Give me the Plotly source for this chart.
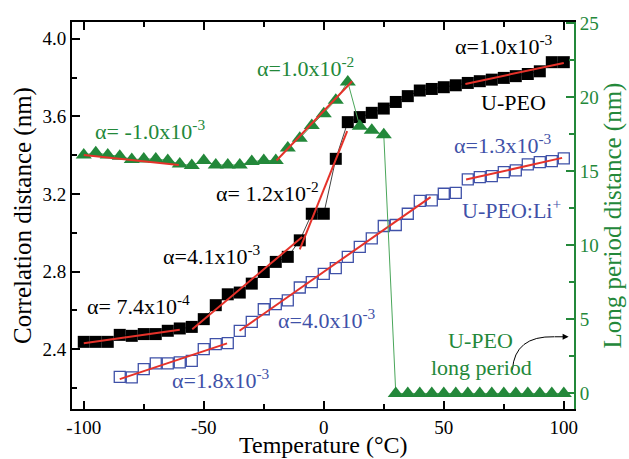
import plotly.graph_objects as go

# ---------------- data ----------------
temp_upeo = [-100, -95, -90, -85, -80, -75, -70, -65, -60, -55, -50, -45, -40, -35, -30,
             -25, -20, -15, -10, -5, 0, 5, 10, 15, 20, 25, 30, 35, 40, 45, 50, 55, 60,
             65, 70, 75, 80, 85, 90, 95, 100]
corr_upeo = [2.438, 2.438, 2.438, 2.474, 2.469, 2.478, 2.478, 2.495, 2.507, 2.515, 2.555,
             2.627, 2.683, 2.692, 2.738, 2.798, 2.850, 2.876, 2.961, 3.098, 3.098, 3.381,
             3.570, 3.596, 3.618, 3.640, 3.674, 3.704, 3.733, 3.741, 3.750, 3.760, 3.772,
             3.781, 3.789, 3.798, 3.807, 3.818, 3.832, 3.879, 3.879]

temp_li = [-85, -80, -75, -70, -65, -60, -55, -50, -45, -40, -35, -30, -25, -20, -15, -10,
           -5, 0, 5, 10, 15, 20, 25, 30, 35, 40, 45, 50, 55, 60, 65, 70, 75, 80, 85, 90,
           95, 100]
corr_li = [2.258, 2.255, 2.297, 2.327, 2.327, 2.332, 2.340, 2.400, 2.426, 2.431, 2.495,
           2.541, 2.606, 2.632, 2.652, 2.718, 2.746, 2.788, 2.818, 2.876, 2.927, 2.971,
           3.035, 3.040, 3.098, 3.164, 3.167, 3.201, 3.206, 3.275, 3.287, 3.292, 3.313,
           3.321, 3.352, 3.364, 3.369, 3.383]

temp_lp = [-100, -95, -90, -85, -80, -75, -70, -65, -60, -55, -50, -45, -40, -35, -30,
           -25, -20, -15, -10, -5, 0, 5, 10, 15, 20, 25, 30, 35, 40, 45, 50, 55, 60, 65,
           70, 75, 80, 85, 90, 95, 100]
long_period = [16.12, 16.26, 16.12, 16.03, 15.81, 15.85, 15.85, 15.74, 15.51, 15.40, 15.74,
               15.44, 15.44, 15.44, 15.67, 15.74, 15.74, 16.58, 17.25, 18.11, 18.90, 19.81,
               21.05, 18.05, 17.78, 17.48, 0, 0, 0, 0, 0, 0, 0, 0, 0, 0, 0, 0, 0, 0, 0]

# linear fit segments (start/end temperature and value, axis they belong to)
fit_x0 = [-100, -19.7, -100, -54.8, -10, 59, -85, -35.1, 59.3]
fit_x1 = [-60.4, 11.8, -60, -9, 9.75, 100, -40.3, 44.5, 99.3]
fit_y0 = [16.12, 15.74, 2.431, 2.503, 2.915, 3.767, 2.246, 2.495, 3.274]
fit_y1 = [15.44, 21.10, 2.500, 2.978, 3.524, 3.875, 2.430, 3.184, 3.386]
fit_axis = ["y2", "y2", "y", "y", "y", "y", "y", "y", "y"]

x_tickvals = [-100, -50, 0, 50, 100]
x_ticktext = ["-100", "-50", "0", "50", "100"]
y_tickvals = [2.4, 2.8, 3.2, 3.6, 4.0]
y_ticktext = ["2.4", "2.8", "3.2", "3.6", "4.0"]
y2_tickvals = [0, 5, 10, 15, 20, 25]
y2_ticktext = ["0", "5", "10", "15", "20", "25"]

# ---------------- style ----------------
GREEN = "#23883a"
GREEN_LINE = "#4aa65a"
BLUE = "#3f51a8"
RED = "#e5322a"
FONT = "Liberation Serif"

fig = go.Figure()

fig.add_trace(go.Scatter(
    x=temp_upeo, y=corr_upeo, mode="lines+markers", yaxis="y",
    line=dict(color="#444444", width=1),
    marker=dict(symbol="square", size=12, color="black"),
    showlegend=False))

fig.add_trace(go.Scatter(
    x=temp_li, y=corr_li, mode="markers", yaxis="y",
    marker=dict(symbol="square-open", size=11, color=BLUE, line=dict(width=1.3)),
    showlegend=False))

fig.add_trace(go.Scatter(
    x=temp_lp, y=long_period, mode="lines+markers", yaxis="y2",
    line=dict(color=GREEN_LINE, width=1),
    marker=dict(symbol="triangle-up", size=14, color=GREEN),
    showlegend=False))

for x0, x1, y0, y1, ax in zip(fit_x0, fit_x1, fit_y0, fit_y1, fit_axis):
    fig.add_trace(go.Scatter(
        x=[x0, x1], y=[y0, y1], mode="lines", yaxis=ax,
        line=dict(color=RED, width=2), showlegend=False))

def sup(base, exp):
    return f"{base}x10<sup>{exp}</sup>"

annots = [
    (sup("α= -1.0", "-3"), -96, 3.53, GREEN, "left"),
    (sup("α=1.0", "-2"), -7.6, 3.855, GREEN, "center"),
    (sup("α=1.0", "-3"), 74.9, 3.965, "black", "center"),
    ("U-PEO", 79, 3.669, "black", "center"),
    (sup("α=1.3", "-3"), 74.5, 3.455, BLUE, "center"),
    ("U-PEO:Li<sup>+</sup>", 78.2, 3.122, BLUE, "center"),
    (sup("α= 1.2", "-2"), -23.5, 3.208, "black", "center"),
    (sup("α=4.1", "-3"), -46.4, 2.884, "black", "center"),
    (sup("α= 7.4", "-4"), -77.2, 2.627, "black", "center"),
    (sup("α=4.0", "-3"), 1.5, 2.555, BLUE, "center"),
    (sup("α=1.8", "-3"), -43, 2.246, BLUE, "center"),
    ("U-PEO", 65.3, 2.445, GREEN, "center"),
    ("long period", 65.7, 2.306, GREEN, "center"),
]
for text, x, y, col, anc in annots:
    fig.add_annotation(x=x, y=y, xref="x", yref="y", text=text, showarrow=False,
                       xanchor=anc, yanchor="middle",
                       font=dict(family=FONT, size=22, color=col))

# x-axis title placed explicitly below the tick labels
fig.add_annotation(x=0, y=-0.092, xref="x", yref="paper", text="Temperature (°C)",
                   showarrow=False, xanchor="center", yanchor="middle",
                   font=dict(family=FONT, size=24, color="black"))

# curved arrow from "U-PEO long period" to the triangles on the right
fig.add_shape(type="path", xref="x", yref="y2",
              path="M 78.6,1.6 Q 79.5,3.9 96,3.83",
              line=dict(color="black", width=1))
fig.add_annotation(x=102, y=3.83, xref="x", yref="y2", ax=95.5, ay=3.83,
                   axref="x", ayref="y2", text="", showarrow=True,
                   arrowhead=2, arrowsize=1.2, arrowwidth=1, arrowcolor="black")

axis_common = dict(ticks="inside", ticklen=8, tickwidth=1.5, showgrid=False,
                   zeroline=False, showline=True, linewidth=1.8, automargin=False)

fig.update_layout(
    width=629, height=459,
    margin=dict(l=72, r=55, t=22, b=50),
    paper_bgcolor="white", plot_bgcolor="white",
    font=dict(family=FONT, size=19, color="black"),
    xaxis=dict(range=[-104.9, 104.25], tickvals=x_tickvals, ticktext=x_ticktext,
               mirror="ticks", linecolor="black", tickcolor="black",
               minor=dict(dtick=25, tick0=0, ticks="inside", ticklen=5, tickcolor="black"),
               tickfont=dict(size=19), **axis_common),
    yaxis=dict(range=[2.092, 4.086], tickvals=y_tickvals, ticktext=y_ticktext,
               linecolor="black", tickcolor="black",
               minor=dict(dtick=0.2, tick0=2.2, ticks="inside", ticklen=5, tickcolor="black"),
               title=dict(text="Correlation distance (nm)", font=dict(size=25), standoff=4),
               tickfont=dict(size=19), **axis_common),
    yaxis2=dict(range=[-1.05, 25.1], tickvals=y2_tickvals, ticktext=y2_ticktext,
                overlaying="y", side="right", anchor="x",
                linecolor=GREEN, tickcolor=GREEN,
                minor=dict(dtick=2.5, tick0=0, ticks="inside", ticklen=5, tickcolor=GREEN),
                title=dict(text="Long period distance (nm)", font=dict(size=25, color=GREEN),
                           standoff=4),
                tickfont=dict(size=19, color=GREEN), **axis_common),
)

fig.write_html("out.html", config={"displayModeBar": False},
               post_script="document.body.style.margin='0';document.body.style.overflow='hidden';")
